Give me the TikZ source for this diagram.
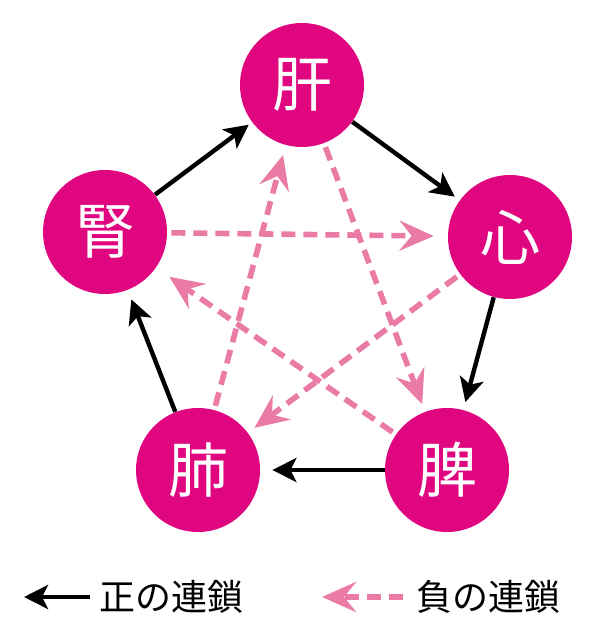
\documentclass[tikz,border=0pt]{standalone}
\usepackage{fontspec}
\newfontfamily\jp{Noto Sans CJK JP}
\usetikzlibrary{arrows.meta}
\definecolor{organred}{HTML}{E0067F}
\definecolor{negpink}{HTML}{EA7BA5}
\tikzset{
	organ/.style={circle,fill=organred,text=white,minimum size=62pt,inner sep=0pt,font=\jp\fontsize{30}{30}\selectfont},
	poschain/.style={-{Stealth[length=12pt,width=12pt,inset=3pt]},line width=2.2pt,black},
	negchain/.style={-{Stealth[length=17pt,width=15pt,inset=6pt]},line width=2.8pt,negpink,dash pattern=on 7pt off 4pt},
	legend/.style={font=\jp\fontsize{18}{18}\selectfont,inner sep=0pt,anchor=west}
}
\begin{document}
\begin{tikzpicture}[x=0.5pt,y=-0.5pt]
	\useasboundingbox (0,0) rectangle (600,640);
	% Organe
	\node[organ] (gan) at (302,85) {肝};
	\node[organ] (shin) at (510,237) {心};
	\node[organ] (hi) at (447,470) {脾};
	\node[organ] (hai) at (198,470) {肺};
	\node[organ] (jin) at (105,232) {腎};
	% positive Kette
	\draw[poschain,shorten >=2pt] (jin) -- (gan);
	\draw[poschain,shorten >=3pt] (gan) -- (shin);
	\draw[poschain,shorten >=4pt] (shin) -- (hi);
	\draw[poschain,shorten >=6pt] (hi) -- (hai);
	\draw[poschain,shorten >=5pt] (hai) -- (jin);
	% negative Kette
	\draw[negchain,shorten >=7pt,shorten <=2pt] (jin) -- (shin);
	\draw[negchain,shorten >=4pt,shorten <=2pt] (gan) -- (hi);
	\draw[negchain,shorten >=4pt,shorten <=2pt] (shin) -- (hai);
	\draw[negchain,shorten >=8pt,shorten <=2pt] (hi) -- (jin);
	\draw[negchain,shorten >=5pt,shorten <=2pt] (hai) -- (gan);
	% Legende
	\coordinate (p1) at (90,597);
	\coordinate (p0) at (24,597);
	\draw[poschain] (p1) -- (p0);
	\node[legend] (postext) at (99,597) {正の連鎖};
	\coordinate (n1) at (403,597);
	\coordinate (n0) at (322,597);
	\draw[negchain] (n1) -- (n0);
	\node[legend] (negtext) at (416,597) {負の連鎖};
\end{tikzpicture}
\end{document}
